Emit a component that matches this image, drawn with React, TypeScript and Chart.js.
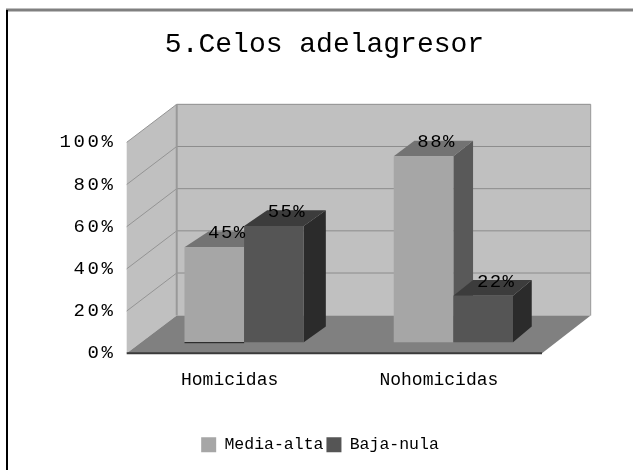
import React, { useEffect, useRef } from "react";
import { Chart, registerables } from "chart.js";

Chart.register(...registerables);

const TITLE = "5.Celos adelagresor";
const categories = ["Homicidas", "Nohomicidas"];
const seriesNames = ["Media-alta", "Baja-nula"];
const mediaAlta = [45, 88];
const bajaNula = [55, 22];
const frontColors = ["#a6a6a6", "#555555"];
const topColors = ["#737373", "#3c3c3c"];
const sideColors = ["#595959", "#2b2b2b"];

const MONO = "'Liberation Mono', monospace";
const FONT_SPACING_TICK = "2.6px";
const FONT_SPACING_LABEL = "1.4px";

const FRONT_DX_L = -12.8;
const FRONT_DX_R = -16;
const BACK_DX_L = 37.2;
const BACK_DX_R = 32.7;
const WALL_DY = 38;
const FLOOR_DY = 37.7;
const BAR_DY = 15.7;

const barDepth = (x: number, left: number) => 24.7 - 0.016 * (x - left);

const poly = (ctx: any, pts: number[][], fill: string) => {
  ctx.beginPath();
  pts.forEach((p, i) => (i ? ctx.lineTo(p[0], p[1]) : ctx.moveTo(p[0], p[1])));
  ctx.closePath();
  ctx.fillStyle = fill;
  ctx.fill();
};
const line = (ctx: any, a: number[], b: number[], color: string, w: number) => {
  ctx.beginPath();
  ctx.moveTo(a[0], a[1]);
  ctx.lineTo(b[0], b[1]);
  ctx.strokeStyle = color;
  ctx.lineWidth = w;
  ctx.stroke();
};

const scene3d = {
  id: "scene3d",
  afterLayout(chart: any) {
    const y = chart.scales.y;
    if (!y.__spaced) {
      y.__spaced = true;
      const orig = y.drawLabels;
      y.drawLabels = function (area: any) {
        const c = this.ctx;
        c.save();
        c.letterSpacing = FONT_SPACING_TICK;
        orig.call(this, area);
        c.restore();
      };
    }
    if (chart.legend) {
      chart.legend.left -= 4.5;
      chart.legend.right -= 4.5;
      chart.legend.adjustHitBoxes();
    }
  },
  beforeDraw(chart: any) {
    const ctx = chart.ctx;
    ctx.save();
    line(ctx, [6, 10], [633, 10], "#808080", 3);
    line(ctx, [7, 10], [7, 470], "#000000", 2);
    ctx.restore();
  },
  beforeDatasetsDraw(chart: any) {
    const { ctx, chartArea: a, scales } = chart;
    const y = scales.y;
    const y0 = y.getPixelForValue(0);
    const y100 = y.getPixelForValue(100);
    const fl = a.left + FRONT_DX_L;
    const fr = a.right + FRONT_DX_R;
    const bl = a.left + BACK_DX_L;
    const br = a.right + BACK_DX_R;
    ctx.save();
    poly(ctx, [[bl, y100 - WALL_DY], [br, y100 - WALL_DY], [br, y0 - FLOOR_DY], [bl, y0 - FLOOR_DY]], "#c0c0c0");
    poly(ctx, [[fl, y100], [bl, y100 - WALL_DY], [bl, y0 - FLOOR_DY], [fl, y0]], "#c0c0c0");
    poly(ctx, [[fl, y0], [fr, y0], [br, y0 - FLOOR_DY], [bl, y0 - FLOOR_DY]], "#808080");
    y.ticks.forEach((t: any) => {
      if (t.value === 0) return;
      const p = y.getPixelForValue(t.value);
      line(ctx, [fl, p], [bl, p - WALL_DY], "#949494", 1);
      line(ctx, [bl, p - WALL_DY], [br, p - WALL_DY], "#8c8c8c", 1);
    });
    line(ctx, [bl, y100 - WALL_DY], [bl, y0 - FLOOR_DY], "#999999", 2);
    line(ctx, [br, y100 - WALL_DY], [br, y0 - FLOOR_DY], "#999999", 1);
    line(ctx, [fl, y0], [fr, y0], "#3a3a3a", 2);
    ctx.restore();
  },
  beforeDatasetDraw() {
    // Painted in afterDatasetsDraw instead: the left series must lie under the right one.
    return false;
  },
  afterDatasetsDraw(chart: any) {
    const { ctx, chartArea: a } = chart;
    ctx.save();
    [0, 1].forEach((i) => {
      const meta = chart.getDatasetMeta(i);
      meta.data.forEach((bar: any) => {
        const l = bar.x - bar.width / 2;
        const r = bar.x + bar.width / 2;
        const dl = barDepth(l, a.left);
        const dr = barDepth(r, a.left);
        poly(ctx, [[r, bar.y], [r + dr, bar.y - BAR_DY], [r + dr, bar.base - BAR_DY], [r, bar.base]], sideColors[i]);
        poly(ctx, [[l, bar.y], [r, bar.y], [r + dr, bar.y - BAR_DY], [l + dl, bar.y - BAR_DY]], topColors[i]);
      });
      meta.controller.draw();
    });
    const first = chart.getDatasetMeta(0).data[0];
    line(ctx, [first.x - first.width / 2, first.base + 0.5], [first.x + first.width / 2, first.base + 0.5], "#1a1a1a", 1);
    ctx.font = `19px ${MONO}`;
    ctx.letterSpacing = FONT_SPACING_LABEL;
    ctx.fillStyle = "#000000";
    ctx.textAlign = "center";
    ctx.textBaseline = "middle";
    chart.data.datasets.forEach((ds: any, i: number) => {
      chart.getDatasetMeta(i).data.forEach((bar: any, j: number) => {
        ctx.fillText(`${ds.data[j]}%`, bar.x + 13, bar.y - 14);
      });
    });
    ctx.restore();
  },
};

export default function App() {
  const ref = useRef<HTMLCanvasElement | null>(null);
  useEffect(() => {
    document.body.style.margin = "0";
    document.body.style.background = "#ffffff";
    const chart = new Chart(ref.current as HTMLCanvasElement, {
      type: "bar",
      data: {
        labels: categories,
        datasets: [
          { label: seriesNames[0], data: mediaAlta, backgroundColor: frontColors[0], yAxisID: "yBar", borderWidth: 0 },
          { label: seriesNames[1], data: bajaNula, backgroundColor: frontColors[1], yAxisID: "yBar", borderWidth: 0 },
        ],
      },
      options: {
        animation: false,
        responsive: false,
        layout: { autoPadding: false, padding: { left: 16, right: 0, top: 0, bottom: 7 } },
        datasets: { bar: { barPercentage: 1, categoryPercentage: 0.57 } },
        plugins: {
          tooltip: { enabled: false },
          title: {
            display: true,
            text: TITLE,
            color: "#000000",
            font: { family: MONO, size: 28, weight: "normal" },
            padding: { top: 28, bottom: 69.4 },
          },
          legend: {
            position: "bottom",
            labels: {
              boxWidth: 15,
              boxHeight: 15,
              padding: 3,
              color: "#000000",
              font: { family: MONO, size: 16.5 },
            },
          },
        },
        scales: {
          x: {
            grid: { display: false },
            border: { display: false },
            afterFit: (s: any) => { s.height = 80.3; },
            ticks: {
              color: "#000000",
              font: { family: MONO, size: 18 },
              padding: 8,
              labelOffset: -14.5,
              maxRotation: 0,
            },
          },
          y: {
            position: "left",
            min: 0,
            max: 105.37,
            grid: { display: false, drawTicks: false },
            border: { display: false },
            afterFit: (s: any) => { s.width = 123.5; },
            ticks: {
              stepSize: 20,
              includeBounds: false,
              color: "#000000",
              font: { family: MONO, size: 19 },
              padding: 24,
              callback: (v: any) => `${v}%`,
            },
          },
          yBar: {
            position: "right",
            min: -5.22,
            max: 100,
            grid: { display: false, drawTicks: false },
            border: { display: false },
            ticks: { display: false },
            afterFit: (s: any) => { s.width = 75; },
          },
        },
      } as any,
      plugins: [scene3d as any],
    });
    return () => chart.destroy();
  }, []);
  return <canvas ref={ref} width={633} height={470} style={{ display: "block" }} />;
}
